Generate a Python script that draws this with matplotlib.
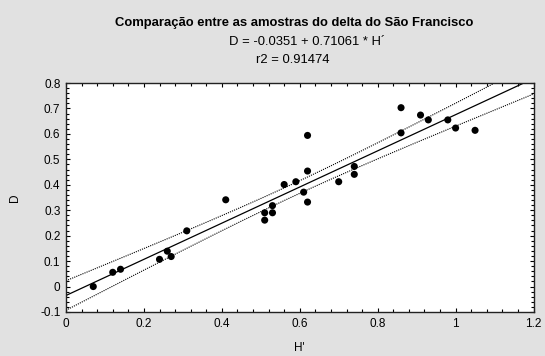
import numpy as np
import matplotlib
matplotlib.use("Agg")
import matplotlib.pyplot as plt
from matplotlib.ticker import MultipleLocator, FuncFormatter

plt.rcParams['font.family'] = ['Liberation Sans', 'DejaVu Sans']

# Data
h_values = [0.07, 0.12, 0.14, 0.24, 0.26, 0.27, 0.31, 0.41, 0.51, 0.51, 0.53, 0.53,
            0.56, 0.59, 0.61, 0.62, 0.62, 0.62, 0.70, 0.74, 0.74, 0.86, 0.86, 0.91,
            0.93, 0.98, 1.00, 1.05]
d_values = [0.00, 0.056, 0.068, 0.107, 0.139, 0.118, 0.219, 0.341, 0.290, 0.261, 0.318, 0.290,
            0.401, 0.412, 0.371, 0.594, 0.454, 0.332, 0.412, 0.472, 0.441, 0.703, 0.604, 0.674,
            0.655, 0.655, 0.623, 0.614]
intercept = -0.0351
slope = 0.71061
r2_text = "0.91474"
title = "Comparação entre as amostras do delta do São Francisco"
eq_text = "D = -0.0351 + 0.71061 * H\u00b4"
x_label = "H'"
y_label = "D"

x = np.array(h_values)
y = np.array(d_values)
n = len(x)
fit = intercept + slope * x
resid = y - fit
s = np.sqrt(np.sum(resid**2) / (n - 2))
xm = x.mean()
sxx = np.sum((x - xm)**2)
t = 2.056

xs = np.linspace(0, 1.2, 200)
ys = intercept + slope * xs
half = t * s * np.sqrt(1.0 / n + (xs - xm)**2 / sxx)

W, H = 545, 356
bg = '#e1e1e1'
fig = plt.figure(figsize=(W / 100, H / 100), dpi=100, facecolor=bg)
ax = fig.add_axes([66 / W, 1 - 312 / H, (533.5 - 66) / W, (312 - 83) / H])
ax.set_facecolor('white')

ax.plot(xs, ys, color='black', lw=0.9)
ax.plot(xs, ys + half, color='black', lw=0.8, ls=(0, (1, 1)))
ax.plot(xs, ys - half, color='black', lw=0.8, ls=(0, (1, 1)))
ax.scatter(x, y, s=26, color='black', zorder=3, edgecolors='none')

ax.set_xlim(0, 1.2)
ax.set_ylim(-0.1, 0.8)
ax.xaxis.set_major_locator(MultipleLocator(0.2))
ax.xaxis.set_minor_locator(MultipleLocator(0.04))
ax.yaxis.set_major_locator(MultipleLocator(0.1))
ax.yaxis.set_minor_locator(MultipleLocator(0.02))


def fmt(v, pos):
    v = round(v, 2)
    if abs(v) < 1e-9:
        return '0'
    return '%g' % v


ax.xaxis.set_major_formatter(FuncFormatter(fmt))
ax.yaxis.set_major_formatter(FuncFormatter(fmt))

ax.tick_params(which='both', direction='in', top=True, right=True, color='black')
ax.tick_params(which='major', length=3, width=0.8, labelsize=8.5, pad=4)
ax.tick_params(which='minor', length=2, width=0.8)
for sp in ax.spines.values():
    sp.set_linewidth(1.0)
    sp.set_color('#222222')

ax.set_xlabel(x_label, fontsize=8.5, labelpad=9)
ax.set_ylabel(y_label, fontsize=8.5, labelpad=14)

fig.text(294 / W, 1 - 23 / H, title, ha='center', va='center',
         fontsize=9.4, fontweight='bold')
fig.text(307 / W, 1 - 42 / H, eq_text, ha='center', va='center', fontsize=9.4)
fig.text(293 / W, 1 - 60 / H, "r2 = " + r2_text, ha='center', va='center', fontsize=9.4)

fig.savefig('out.png', dpi=100, facecolor=bg)
